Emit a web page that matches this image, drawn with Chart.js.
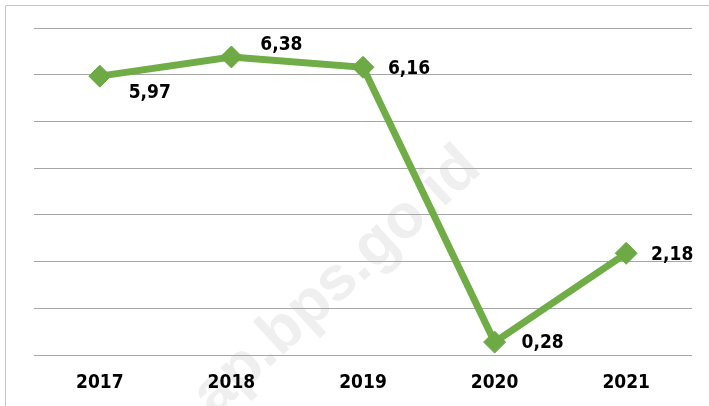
<!DOCTYPE html>
<html>
<head>
<meta charset="utf-8">
<script src="https://cdn.jsdelivr.net/npm/chart.js@4.4.0/dist/chart.umd.min.js"></script>
<style>
html,body{margin:0;padding:0;background:#fff;}
#wrap{position:relative;width:709px;height:406px;}
</style>
</head>
<body>
<div id="wrap"><canvas id="c" width="709" height="406"></canvas></div>
<script>
const categories = ['2017', '2018', '2019', '2020', '2021'];
const values = [5.97, 6.38, 6.16, 0.28, 2.18];
const valueLabels = ['5,97', '6,38', '6,16', '0,28', '2,18'];
const yTicks = [0, 1, 2, 3, 4, 5, 6, 7];

const labelOffsets = [[50, 17], [50, -12], [46, 2], [48, 1], [46, 2]];
const FONT = '"DejaVu Sans Condensed", "DejaVu Sans", sans-serif';

const framePlugin = {
  id: 'frame',
  beforeDraw(chart) {
    const ctx = chart.ctx;
    ctx.save();
    // watermark
    ctx.translate(337, 282);
    ctx.rotate(-42.5 * Math.PI / 180);
    ctx.font = 'bold 62px "Liberation Sans", Arial, sans-serif';
    ctx.fillStyle = '#efefef';
    ctx.textAlign = 'center';
    ctx.textBaseline = 'middle';
    ctx.fillText('ap.bps.go.id', 0, 0);
    ctx.restore();
    ctx.save();
    ctx.strokeStyle = '#c4c4c4';
    ctx.lineWidth = 1;
    ctx.beginPath();
    ctx.moveTo(5.5, 406);
    ctx.lineTo(5.5, 5.5);
    ctx.lineTo(709, 5.5);
    ctx.stroke();
    ctx.restore();
  }
};

const labelPlugin = {
  id: 'valueLabels',
  afterDatasetsDraw(chart) {
    const ctx = chart.ctx;
    const meta = chart.getDatasetMeta(0);
    ctx.save();
    ctx.font = 'bold 19px ' + FONT;
    ctx.fillStyle = '#000';
    ctx.textAlign = 'center';
    ctx.textBaseline = 'middle';
    meta.data.forEach((pt, i) => {
      const o = labelOffsets[i];
      ctx.fillText(valueLabels[i], pt.x + o[0], pt.y + o[1]);
    });
    ctx.restore();
  }
};

new Chart(document.getElementById('c'), {
  type: 'line',
  data: {
    labels: categories,
    datasets: [{
      data: values,
      borderColor: '#70AD47',
      backgroundColor: '#70AD47',
      borderWidth: 7,
      pointStyle: 'rectRot',
      pointRadius: 11,
      pointHoverRadius: 11,
      pointBackgroundColor: '#6DAA45',
      pointBorderColor: '#6DAA45',
      pointBorderWidth: 1,
      tension: 0,
      clip: false
    }]
  },
  options: {
    responsive: false,
    animation: false,
    events: [],
    layout: { padding: { left: 34, right: 17, top: 28, bottom: -4 } },
    plugins: { legend: { display: false }, tooltip: { enabled: false } },
    scales: {
      x: {
        offset: true,
        grid: { display: false, drawTicks: false },
        border: { display: false },
        ticks: { color: '#000', font: { family: FONT, size: 19, weight: 'bold' }, padding: 16 }
      },
      y: {
        min: 0,
        max: 7,
        afterBuildTicks(axis) { axis.ticks = yTicks.map(v => ({ value: v })); },
        grid: { color: '#a6a6a6', lineWidth: 1, drawTicks: false },
        border: { display: false },
        ticks: { display: false }
      }
    }
  },
  plugins: [framePlugin, labelPlugin]
});
</script>
</body>
</html>
